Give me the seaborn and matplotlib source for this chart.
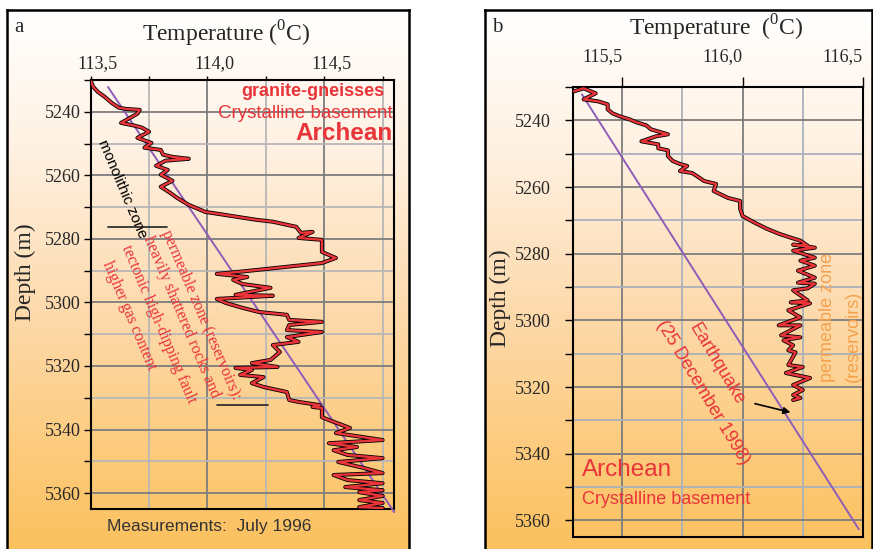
import numpy as np
import matplotlib.pyplot as plt
import matplotlib.patheffects as pe
from matplotlib.colors import LinearSegmentedColormap
from matplotlib.transforms import ScaledTranslation
import seaborn as sns

sns.set_theme(style="white")
plt.rcParams['font.family'] = ['Liberation Serif', 'DejaVu Serif']
plt.rcParams['mathtext.fontset'] = 'custom'
plt.rcParams['mathtext.rm'] = 'Liberation Serif'

#%% data

# panel a : July 1996 log
temp_a = [113.50, 113.51, 113.53, 113.56, 113.59, 113.62, 113.65, 113.71, 113.70, 113.63,
          113.69, 113.72, 113.75, 113.70, 113.76, 113.73, 113.80, 113.81, 113.85, 113.92,
          113.82, 113.78, 113.83, 113.80, 113.85, 113.80, 113.84, 113.87, 113.92, 113.99,
          114.07, 114.13, 114.21, 114.28, 114.38, 114.40, 114.45, 114.39, 114.49, 114.49,
          114.55, 114.49, 114.30, 114.13, 114.04, 114.17, 114.11, 114.15, 114.27, 114.12,
          114.28, 114.04, 114.08, 114.15, 114.22, 114.34, 114.35, 114.49, 114.35, 114.34,
          114.49, 114.34, 114.39, 114.28, 114.31, 114.27, 114.19, 114.30, 114.12, 114.19,
          114.14, 114.24, 114.19, 114.24, 114.34, 114.35, 114.39, 114.48, 114.45, 114.49,
          114.49, 114.52, 114.61, 114.55, 114.75, 114.52, 114.64, 114.54, 114.60, 114.75,
          114.56, 114.67, 114.75, 114.54, 114.60, 114.75, 114.59, 114.75, 114.65, 114.75,
          114.65, 114.75, 114.65, 114.75]
depth_a = [5230.2, 5232.1, 5233.7, 5235.3, 5237.2, 5238.7, 5239.1, 5239.4, 5240.6, 5243.5,
           5244.4, 5245.0, 5246.3, 5248.2, 5249.8, 5251.3, 5252.0, 5253.5, 5254.2, 5254.8,
           5255.4, 5257.0, 5258.3, 5259.8, 5261.7, 5263.6, 5265.5, 5267.1, 5269.3, 5271.5,
           5272.4, 5273.1, 5274.0, 5274.6, 5276.2, 5278.1, 5277.8, 5279.7, 5280.3, 5284.1,
           5286.0, 5287.6, 5289.1, 5290.4, 5291.0, 5292.0, 5292.9, 5294.2, 5295.4, 5297.6,
           5297.9, 5298.9, 5300.2, 5301.7, 5303.0, 5303.9, 5305.5, 5306.1, 5307.1, 5308.7,
           5309.3, 5310.9, 5312.4, 5313.4, 5315.6, 5318.1, 5319.1, 5320.3, 5320.6, 5321.3,
           5322.8, 5323.5, 5325.4, 5326.6, 5328.2, 5330.7, 5331.3, 5332.3, 5332.9, 5333.2,
           5336.1, 5337.0, 5339.5, 5341.1, 5343.3, 5344.3, 5345.5, 5346.5, 5348.0, 5349.0,
           5350.2, 5352.1, 5353.7, 5354.3, 5355.9, 5356.9, 5358.1, 5359.1, 5359.7, 5360.9,
           5362.2, 5363.1, 5364.4, 5364.7]
trend_a_t = [113.574, 114.80]
trend_a_d = [5232.2, 5366.0]

# panel b : after the earthquake
temp_b = [115.30, 115.34, 115.39, 115.34, 115.40, 115.44, 115.44, 115.46, 115.49, 115.53,
          115.56, 115.60, 115.62, 115.69, 115.64, 115.58, 115.65, 115.65, 115.69, 115.69,
          115.71, 115.74, 115.77, 115.74, 115.79, 115.81, 115.84, 115.89, 115.88, 115.94,
          115.99, 115.99, 116.00, 116.05, 116.10, 116.15, 116.20, 116.24, 116.27, 116.21,
          116.30, 116.21, 116.30, 116.24, 116.30, 116.23, 116.30, 116.23, 116.30, 116.27,
          116.21, 116.27, 116.20, 116.28, 116.19, 116.24, 116.15, 116.24, 116.16, 116.24,
          116.17, 116.21, 116.19, 116.22, 116.19, 116.25, 116.18, 116.28, 116.21, 116.25,
          116.21, 116.24, 116.21]
depth_b = [5231.3, 5230.4, 5231.9, 5233.7, 5234.3, 5235.2, 5236.7, 5237.9, 5238.8, 5239.7,
           5240.6, 5241.5, 5242.7, 5244.2, 5244.8, 5246.3, 5247.2, 5248.4, 5249.0, 5250.7,
           5252.2, 5253.1, 5253.7, 5255.2, 5255.8, 5256.7, 5258.2, 5259.1, 5261.2, 5263.3,
           5264.2, 5266.6, 5268.7, 5270.7, 5272.5, 5274.0, 5275.2, 5276.1, 5277.6, 5277.3,
           5278.2, 5279.1, 5281.2, 5282.1, 5283.6, 5285.1, 5287.2, 5288.7, 5289.0, 5290.4,
           5291.0, 5294.0, 5294.6, 5294.9, 5297.0, 5299.1, 5301.5, 5301.5, 5304.5, 5305.1,
           5306.0, 5307.5, 5309.0, 5309.6, 5313.4, 5314.0, 5315.8, 5317.3, 5319.4, 5320.9,
           5322.4, 5323.3, 5323.9]
trend_b_t = [115.333, 116.483]
trend_b_d = [5232.2, 5362.7]

xticks_a = [113.5, 114.0, 114.5]
xminor_a = [113.75, 114.25, 114.75]
xlabels_a = ['113,5', '114,0', '114,5']
xticks_b = [115.5, 116.0, 116.5]
xminor_b = [115.75, 116.25]
xlabels_b = ['115,5', '116,0', '116,5']
yticks = [5240, 5260, 5280, 5300, 5320, 5340, 5360]
yminor = [5230, 5250, 5270, 5290, 5310, 5330, 5350]
ylabels = ['5240', '5260', '5280', '5300', '5320', '5340', '5360']

# marker lines / arrow (annotation)
zone_line1_t = [113.574, 113.827]
zone_line1_d = [5276.2, 5276.2]
zone_line2_t = [114.04, 114.26]
zone_line2_d = [5332.3, 5332.3]
quake_arrow_from = (116.04, 5324.8)
quake_arrow_to = (116.21, 5327.8)

#%% figure

W, H = 873, 549
fig = plt.figure(figsize=(W / 100, H / 100), dpi=100)
fig.patch.set_facecolor('white')

def fx(px):
    return px / W

def fy(py):
    return 1 - py / H

RED = '#e9343a'
PURPLE = '#8f5db8'
ORANGE = '#f4a14d'
bg_cmap = LinearSegmentedColormap.from_list(
    'bg', [(0, '#ffffff'), (0.25, '#fff1e2'), (0.55, '#fdd9aa'),
           (0.8, '#fcca7a'), (1, '#fbbf58')])

# panel frames with gradient
for x0, x1 in [(7, 409), (485, 872)]:
    bg = fig.add_axes([fx(x0), -0.04, fx(x1) - fx(x0), fy(10) + 0.04], zorder=0)
    bg.imshow(np.linspace(0, 1, 256).reshape(-1, 1), aspect='auto', cmap=bg_cmap,
              extent=[0, 1, 0, 1], origin='upper')
    bg.set_xticks([]); bg.set_yticks([])
    for s in bg.spines.values():
        s.set_color('black'); s.set_linewidth(1.8)

def setup(ax, xlim, xticks, xminor, major_c, minor_c):
    ax.patch.set_alpha(0)
    ax.xaxis.tick_top()
    ax.set_xticks(xticks)
    ax.set_xticks(xminor, minor=True)
    ax.set_yticks(yticks)
    ax.set_yticks(yminor, minor=True)
    ax.set_xlim(*xlim)
    ax.set_ylim(5365, 5230)
    ax.grid(which='major', color=major_c, lw=1.3)
    ax.grid(which='minor', color=minor_c, lw=1.3)
    ax.set_axisbelow(True)
    for s in ax.spines.values():
        s.set_color('black'); s.set_linewidth(1.5)

def draw_curve(ax, t, d, tt, td):
    sns.lineplot(x=tt, y=td, sort=False, estimator=None, color=PURPLE, lw=1.4, ax=ax,
                 clip_on=False, zorder=3)
    sns.lineplot(x=t, y=d, sort=False, estimator=None, color=RED, lw=1.7, ax=ax, zorder=4,
                 path_effects=[pe.Stroke(linewidth=2.9, foreground='black'), pe.Normal()])
    ax.set_xlabel(''); ax.set_ylabel('')

#%% panel a
ax_a = fig.add_axes([fx(90.7), fy(509), fx(394.3) - fx(90.7), fy(80) - fy(509)], zorder=2)
setup(ax_a, (113.5, 114.80), xticks_a, xminor_a, '#7d7d7d', '#b7b7b7')
draw_curve(ax_a, temp_a, depth_a, trend_a_t, trend_a_d)
ax_a.set_xlim(113.5, 114.80)
ax_a.set_xticklabels(xlabels_a, fontsize=13)
ax_a.set_yticklabels(ylabels, fontsize=13)
ax_a.tick_params(axis='x', which='both', top=True, bottom=False, length=3, width=1,
                 color='black', pad=3, labeltop=True, labelbottom=False)
ax_a.tick_params(axis='y', which='both', left=True, length=5, width=1, color='black', pad=2)
for lab in ax_a.get_xticklabels():
    lab.set_transform(lab.get_transform() + ScaledTranslation(0.07, 0, fig.dpi_scale_trans))

ax_a.plot(zone_line1_t, zone_line1_d, color='#222222', lw=1.2, zorder=5)
ax_a.plot(zone_line2_t, zone_line2_d, color='#222222', lw=1.2, zorder=5)

fig.text(fx(14), fy(28), 'a', fontsize=15, ha='left', va='center')
fig.text(fx(226), fy(34), 'Temperature ($^{\\mathrm{0}}$C)', fontsize=17, ha='center', va='center')
fig.text(fx(25), fy(272), 'Depth (m)', fontsize=17, rotation=90, ha='center', va='center')

sans = ['Liberation Sans', 'DejaVu Sans']
fig.text(fx(384), fy(92), 'granite-gneisses', family=sans, fontsize=13, fontweight='bold',
         color=RED, ha='right', va='center', zorder=6)
fig.text(fx(393), fy(114), 'Crystalline basement', family=sans, fontsize=13.5,
         color=RED, ha='right', va='center', zorder=6)
fig.text(fx(393), fy(134), 'Archean', family=sans, fontsize=17.5, fontweight='bold',
         color=RED, ha='right', va='center', zorder=6)
fig.text(fx(102), fy(140), 'monolithic zone', family=sans, fontsize=11, color='black',
         rotation=-67, rotation_mode='anchor', ha='left', va='center', zorder=6)
for (px, py), s in zip([(165, 231), (147, 237), (125, 246), (106, 262)],
                       ['permeable zone (reservoirs):', 'heavily shattered rocks and',
                        'tectonic high-dipping fault', 'higher gas content']):
    fig.text(fx(px), fy(py), s, fontsize=11.5, color=RED, rotation=-67,
             rotation_mode='anchor', ha='left', va='center', zorder=6)
fig.text(fx(107), fy(527), 'Measurements:  July 1996', family=sans, fontsize=12.5,
         color='#333333', ha='left', va='center')

#%% panel b
ax_b = fig.add_axes([fx(573), fy(537), fx(863) - fx(573), fy(87) - fy(537)], zorder=2)
setup(ax_b, (115.296, 116.5), xticks_b, xminor_b, '#7d7d7d', '#aab0bb')
draw_curve(ax_b, temp_b, depth_b, trend_b_t, trend_b_d)
ax_b.set_xlim(115.296, 116.5)
ax_b.set_xticklabels(xlabels_b, fontsize=13, ha='right')
ax_b.set_yticklabels(ylabels, fontsize=13)
ax_b.tick_params(axis='x', which='major', top=True, bottom=False, length=7, width=1,
                 color='black', pad=9, labeltop=True, labelbottom=False)
ax_b.tick_params(axis='x', which='minor', top=False, bottom=False)
ax_b.tick_params(axis='y', which='both', left=True, length=6, width=1, color='black', pad=10)

ax_b.annotate('', xy=quake_arrow_to, xytext=quake_arrow_from,
              arrowprops=dict(arrowstyle='-|>', color='black', lw=1.2, mutation_scale=10))

fig.text(fx(492), fy(28), 'b', fontsize=15, ha='left', va='center')
fig.text(fx(716), fy(28), 'Temperature  ($^{\\mathrm{0}}$C)', fontsize=17, ha='center', va='center')
fig.text(fx(500), fy(298), 'Depth (m)', fontsize=17, rotation=90, ha='center', va='center')

fig.text(fx(582), fy(470), 'Archean', family=sans, fontsize=17.5, color=RED,
         ha='left', va='center', zorder=6)
fig.text(fx(582), fy(499), 'Crystalline basement', family=sans, fontsize=13, color=RED,
         ha='left', va='center', zorder=6)
fig.text(fx(693), fy(325), 'Earthquake', family=sans, fontsize=13, color=RED, rotation=-59,
         rotation_mode='anchor', ha='left', va='center', zorder=6)
fig.text(fx(660), fy(322), '(25 December 1998)', family=sans, fontsize=13, color=RED,
         rotation=-59, rotation_mode='anchor', ha='left', va='center', zorder=6)
fig.text(fx(828), fy(382), 'permeable zone', family=sans, fontsize=13, color=ORANGE,
         rotation=90, rotation_mode='anchor', ha='left', va='center', zorder=6)
fig.text(fx(853), fy(382), '(reservoirs)', family=sans, fontsize=13, color=ORANGE,
         rotation=90, rotation_mode='anchor', ha='left', va='center', zorder=6)

fig.savefig('out.png', dpi=100)
